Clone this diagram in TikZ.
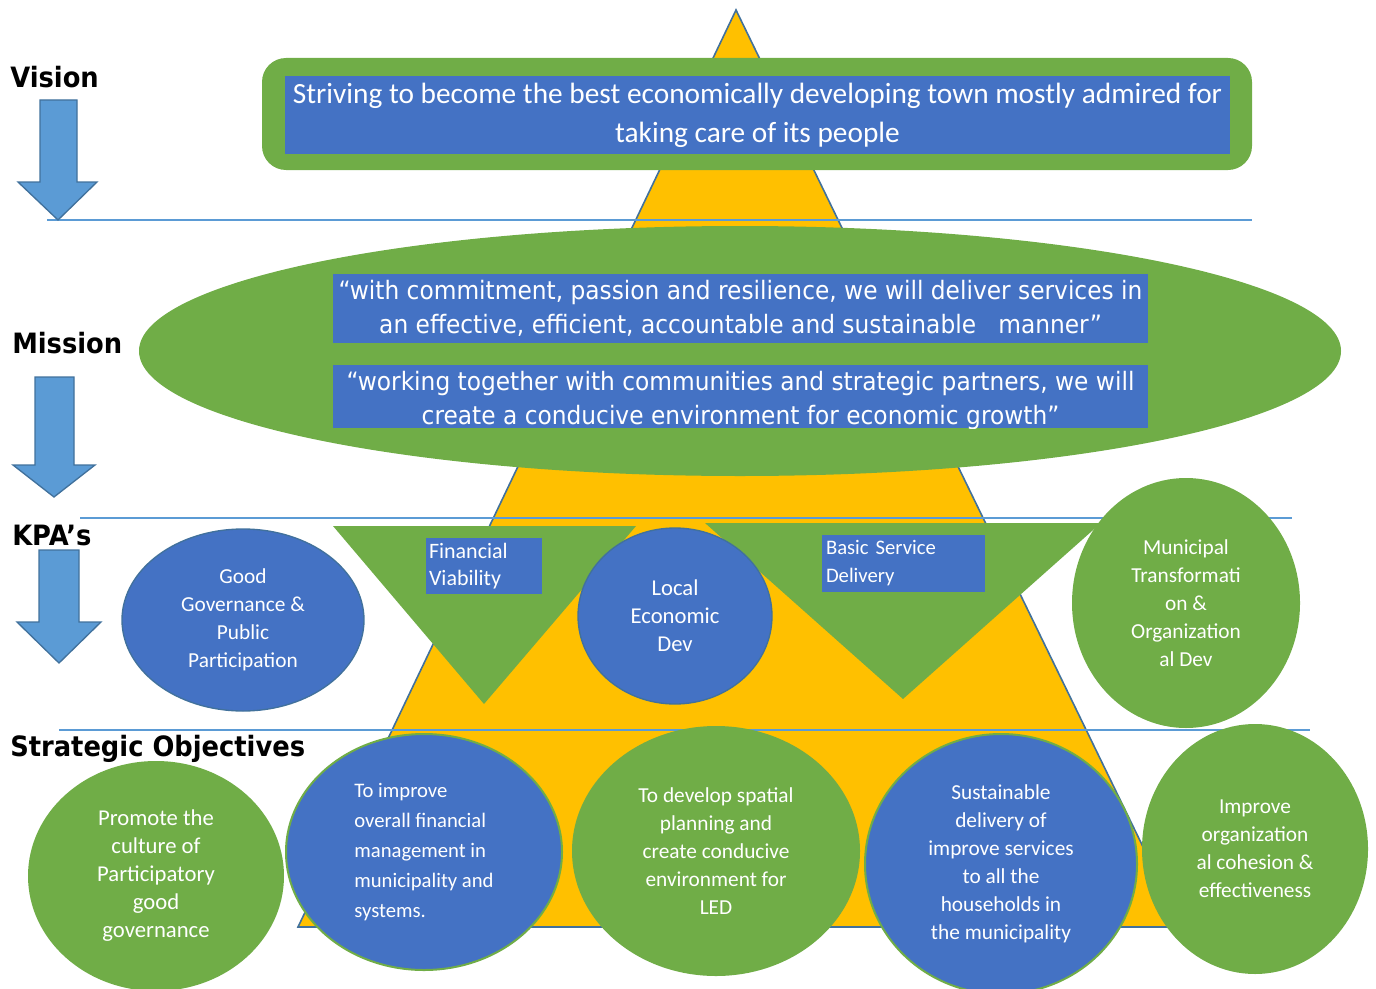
\documentclass[tikz,border=0pt]{standalone}
\usepackage{fontspec}
\setmainfont{Carlito}
\newfontfamily\tahoma{DejaVu Sans}[FakeStretch=0.92]
\usetikzlibrary{shapes.geometric}
\definecolor{kgreen}{HTML}{70AD47}
\definecolor{kblue}{HTML}{4472C4}
\definecolor{kgold}{HTML}{FFC000}
\definecolor{karrow}{HTML}{5B9BD5}
\definecolor{kedge}{HTML}{41719C}

\begin{document}
\begin{tikzpicture}[
    x=0.75pt,
    y=-0.75pt,
    level/.style={
        font=\tahoma\bfseries\fontsize{21}{24}\selectfont,
        anchor=base west,
        inner sep=0pt
    },
    divider/.style={
        draw=karrow,
        line width=1pt
    },
    down arrow/.style={
        fill=karrow,
        draw=kedge,
        line width=1pt
    },
    textbox/.style={
        rectangle,
        fill=kblue,
        text=white,
        inner sep=0pt
    },
    kpa/.style={
        ellipse,
        fill=kblue,
        draw=kedge,
        line width=1pt,
        text=white,
        align=center,
        inner sep=0pt,
        font=\fontsize{16}{21}\selectfont
    },
    goal/.style={
        ellipse,
        fill=kgreen,
        text=white,
        align=center,
        inner sep=0pt,
        font=\fontsize{16}{21}\selectfont
    },
    goal blue/.style={
        goal,
        fill=kblue,
        draw=kgreen,
        line width=1.5pt
    }
]
    \useasboundingbox (0,0) rectangle (1376,988);

    % Pyramid
    \draw [fill=kgold, draw=kedge, line width=1.2pt] (736,10) -- (1182,927) -- (298,927) -- cycle;

    % Dividers
    \draw [divider] (47,220) -- (1252,220);
    \draw [divider] (80,518) -- (1292,518);
    \draw [divider] (59,730) -- (1310,730);

    % Vision
    \node (visionframe) [fill=kgreen, rounded corners=18pt, inner sep=0pt,
        minimum width={990*0.75pt}, minimum height={112*0.75pt}] at (757,114) {};
    \node (vision) [textbox, align=center, minimum width={945*0.75pt}, minimum height={78*0.75pt},
        font=\fontsize{22}{29.25}\selectfont] at (757.5,115)
        {Striving to become the best economically developing town mostly admired for\\taking care of its people};

    % Mission
    \node (missionoval) [ellipse, fill=kgreen, inner sep=0pt,
        minimum width={1202*0.75pt}, minimum height={250*0.75pt}] at (740,351) {};
    \node (mission1) [textbox, align=center, minimum width={815*0.75pt}, minimum height={69*0.75pt},
        font=\tahoma\fontsize{19}{25.5}\selectfont] at (740.5,308.5)
        {“with commitment, passion and resilience, we will deliver services in\\an effective, efficient, accountable and sustainable\ \ \ manner”};
    \node (mission2) [textbox, minimum width={815*0.75pt}, minimum height={63*0.75pt}] at (740.5,396.5) {};
    \begin{scope}
        \clip (mission2.south west) rectangle (mission2.north east);
        \node (mission2text) [text=white, align=center, inner sep=0pt,
            font=\tahoma\fontsize{19}{25.5}\selectfont] at (740.5,401)
            {“working together with communities and strategic partners, we will\\create a conducive environment for economic growth”};
    \end{scope}

    % KPAs
    \node (govern) [kpa, minimum width={242*0.75pt}, minimum height={182*0.75pt}] at (243,620)
        {Good\\Governance \&\\Public\\Participation};
    \fill [kgreen] (333,526) -- (636,526) -- (484,704) -- cycle;
    \node (finance) [textbox, align=left, text width={110*0.75pt},
        minimum width={116*0.75pt}, minimum height={56*0.75pt},
        font=\fontsize{16.5}{20}\selectfont] at (484,566) {Financial\\Viability};
    \fill [kgreen] (705,523) -- (1101,523) -- (903,699) -- cycle;
    \node (basic) [textbox, align=left, text width={155*0.75pt},
        minimum width={163*0.75pt}, minimum height={57*0.75pt},
        font=\fontsize{15.5}{21}\selectfont] at (903.5,563.5) {Basic Service\\Delivery};
    \node (localeco) [kpa, minimum width={194*0.75pt}, minimum height={176*0.75pt},
        font=\fontsize{17}{21}\selectfont] at (675,616) {Local\\Economic\\Dev};
    \node (municipal) [goal, minimum width={228*0.75pt}, minimum height={250*0.75pt}] at (1186,603)
        {Municipal\\Transformati\\on \&\\Organization\\al Dev};

    % Strategic objectives
    \node (promote) [goal, minimum width={256*0.75pt}, minimum height={230*0.75pt},
        font=\fontsize{17}{21}\selectfont] at (156,876)
        {Promote the\\culture of\\Participatory\\good\\governance};
    \node (finmanage) [goal blue, align=left, minimum width={276*0.75pt}, minimum height={236*0.75pt},
        font=\fontsize{15.5}{22.5}\selectfont] at (424,852)
        {To improve\\overall financial\\management in\\municipality and\\systems.};
    \node (spatial) [goal, minimum width={288*0.75pt}, minimum height={250*0.75pt}] at (716,851)
        {To develop spatial\\planning and\\create conducive\\environment for\\LED};
    \node (services) [goal blue, minimum width={272*0.75pt}, minimum height={260*0.75pt}] at (1001,864)
        {Sustainable\\delivery of\\improve services\\to all the\\households in\\the municipality};
    \node (cohesion) [goal, minimum width={226*0.75pt}, minimum height={250*0.75pt}] at (1255,849)
        {Improve\\organization\\al cohesion \&\\effectiveness};

    % Level labels and arrows
    \node (visionlabel) [level] at (10,88) {Vision};
    \node (missionlabel) [level] at (12,353) {Mission};
    \node (kpalabel) [level] at (12,545) {KPA’s};
    \node (objlabel) [level] at (10,756) {Strategic Objectives};
    \draw [down arrow] (40,100) -- (77,100) -- (77,182) -- (97,182) -- (58,220) -- (18,182) -- (40,182) -- cycle;
    \draw [down arrow] (35,377) -- (74,377) -- (74,465) -- (95,465) -- (54,497) -- (13,465) -- (35,465) -- cycle;
    \draw [down arrow] (39,550) -- (79,550) -- (79,622) -- (101,622) -- (59,663) -- (17,622) -- (39,622) -- cycle;

\end{tikzpicture}
\end{document}
